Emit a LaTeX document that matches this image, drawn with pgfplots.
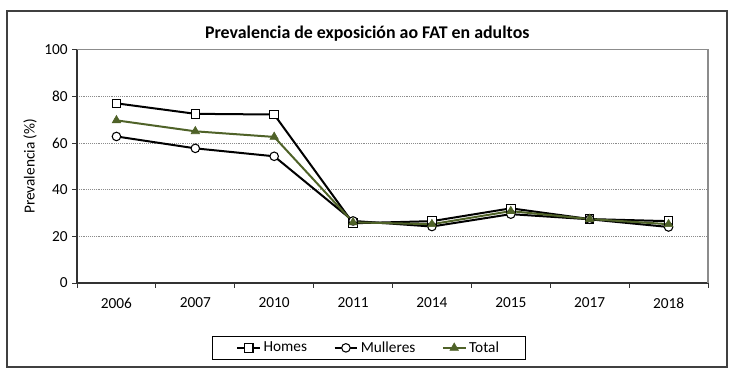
\documentclass[border=0pt]{standalone}
\usepackage{fontspec}
\setmainfont{Carlito}
\usepackage{pgfplots}
\pgfplotsset{compat=1.18}
\definecolor{olive}{HTML}{4F6228}
\begin{document}
\begin{tikzpicture}[x=0.75pt,y=0.75pt]
\path[use as bounding box] (0,0) rectangle (736,384);
\draw[black!75, line width=0.8pt] (7,17) rectangle (727,373);
\begin{axis}[
  at={(57.75pt,75.75pt)}, anchor=south west,
  scale only axis, width=473.25pt, height=175pt,
  xmin=-0.5, xmax=7.5, ymin=0, ymax=100,
  axis x line=bottom, axis y line=left,
  axis line style={-, black!80, line width=0.9pt},
  xtick={0,...,7},
  xticklabels={2006,2007,2010,2011,2014,2015,2017,2018},
  major x tick style={draw=none},
  minor xtick={-0.5,0.5,...,7.5},
  minor x tick style={black!80, line width=0.7pt},
  minor tick length=3.5pt,
  ytick={0,20,...,100},
  y tick style={black!80, line width=0.7pt},
  major tick length=3.5pt,
  tick align=outside,
  ymajorgrids, major grid style={densely dotted, black!45, line width=0.6pt},
  /pgf/number format/assume math mode=true,
  tick label style={font=\fontsize{11.5}{13}\selectfont},
  xticklabel style={yshift=-4pt},
  ylabel={Prevalencia (\%)},
  ylabel style={at={(axis description cs:-0.0745,0.5)}, anchor=center, font=\fontsize{11.5}{13}\selectfont},
  legend columns=3,
  legend style={at={(axis description cs:0.463,-0.278)}, anchor=center, draw=black, line width=0.8pt, font=\fontsize{11.5}{13}\selectfont, inner xsep=18pt, inner ysep=2pt},
  legend image post style={line width=1.2pt},
  /tikz/every even column/.append style={column sep=18pt},
  clip=false,
]
\draw[black!45, line width=0.9pt] (rel axis cs:0,1) -- (rel axis cs:1,1) -- (rel axis cs:1,0);
\addplot[black, line width=1.5pt, mark=square*, mark size=3.2pt, mark options={fill=white, line width=0.8pt}]
  coordinates {(0,77) (1,72.5) (2,72.2) (3,25.6) (4,26.5) (5,32) (6,27.4) (7,26.5)};
\addlegendentry{Homes}
\addplot[black, line width=1.5pt, mark=*, mark size=3.2pt, mark options={fill=white, line width=0.8pt}]
  coordinates {(0,62.8) (1,57.7) (2,54.3) (3,26.6) (4,24.2) (5,29.5) (6,27.3) (7,24)};
\addlegendentry{Mulleres}
\addplot[olive, line width=1.5pt, mark=triangle*, mark size=3.6pt, mark options={fill=olive, line width=0.5pt}]
  coordinates {(0,69.7) (1,65) (2,62.6) (3,26) (4,25.2) (5,30.8) (6,27.4) (7,25.2)};
\addlegendentry{Total}
\node[font=\bfseries\fontsize{13.4}{15}\selectfont, anchor=center] at (rel axis cs:0.46,1.0707) {Prevalencia de exposición ao FAT en adultos};
\end{axis}
\end{tikzpicture}
\end{document}
